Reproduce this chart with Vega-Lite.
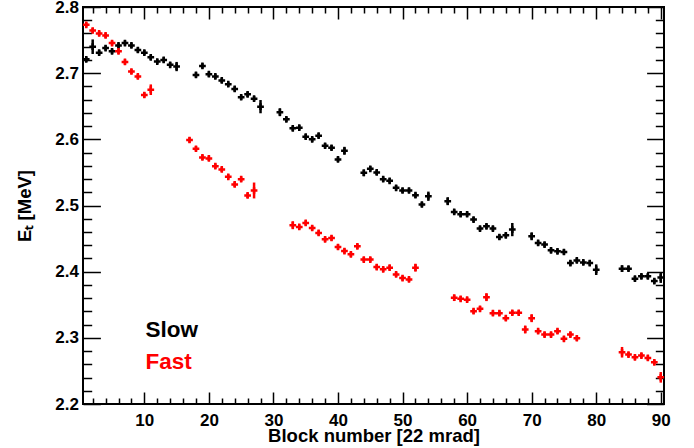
{
  "$schema": "https://vega.github.io/schema/vega-lite/v6.json",
  "width": 581,
  "height": 397,
  "autosize": {"type": "none"},
  "padding": {"left": 83, "top": 7, "right": 30, "bottom": 44},
  "background": "white",
  "data": {"values": [
    {"block":1,"E":2.721,"err":0.004,"series":"Slow"},
    {"block":2,"E":2.740,"err":0.011,"series":"Slow"},
    {"block":3,"E":2.731,"err":0.004,"series":"Slow"},
    {"block":4,"E":2.738,"err":0.004,"series":"Slow"},
    {"block":5,"E":2.733,"err":0.004,"series":"Slow"},
    {"block":6,"E":2.742,"err":0.004,"series":"Slow"},
    {"block":7,"E":2.7455,"err":0.004,"series":"Slow"},
    {"block":8,"E":2.742,"err":0.004,"series":"Slow"},
    {"block":9,"E":2.735,"err":0.004,"series":"Slow"},
    {"block":10,"E":2.731,"err":0.004,"series":"Slow"},
    {"block":11,"E":2.724,"err":0.004,"series":"Slow"},
    {"block":12,"E":2.7176,"err":0.004,"series":"Slow"},
    {"block":13,"E":2.720,"err":0.004,"series":"Slow"},
    {"block":14,"E":2.7126,"err":0.004,"series":"Slow"},
    {"block":15,"E":2.710,"err":0.007,"series":"Slow"},
    {"block":18,"E":2.6974,"err":0.004,"series":"Slow"},
    {"block":19,"E":2.711,"err":0.004,"series":"Slow"},
    {"block":20,"E":2.6985,"err":0.004,"series":"Slow"},
    {"block":21,"E":2.695,"err":0.004,"series":"Slow"},
    {"block":22,"E":2.689,"err":0.004,"series":"Slow"},
    {"block":23,"E":2.6833,"err":0.004,"series":"Slow"},
    {"block":24,"E":2.6762,"err":0.004,"series":"Slow"},
    {"block":25,"E":2.6636,"err":0.004,"series":"Slow"},
    {"block":26,"E":2.668,"err":0.004,"series":"Slow"},
    {"block":27,"E":2.6615,"err":0.004,"series":"Slow"},
    {"block":28,"E":2.6494,"err":0.010,"series":"Slow"},
    {"block":31,"E":2.641,"err":0.006,"series":"Slow"},
    {"block":32,"E":2.6303,"err":0.004,"series":"Slow"},
    {"block":33,"E":2.6167,"err":0.004,"series":"Slow"},
    {"block":34,"E":2.6176,"err":0.004,"series":"Slow"},
    {"block":35,"E":2.604,"err":0.004,"series":"Slow"},
    {"block":36,"E":2.600,"err":0.004,"series":"Slow"},
    {"block":37,"E":2.6055,"err":0.004,"series":"Slow"},
    {"block":38,"E":2.5903,"err":0.004,"series":"Slow"},
    {"block":39,"E":2.5873,"err":0.004,"series":"Slow"},
    {"block":40,"E":2.5697,"err":0.004,"series":"Slow"},
    {"block":41,"E":2.5827,"err":0.006,"series":"Slow"},
    {"block":44,"E":2.5494,"err":0.005,"series":"Slow"},
    {"block":45,"E":2.5555,"err":0.004,"series":"Slow"},
    {"block":46,"E":2.550,"err":0.004,"series":"Slow"},
    {"block":47,"E":2.5398,"err":0.004,"series":"Slow"},
    {"block":48,"E":2.5373,"err":0.004,"series":"Slow"},
    {"block":49,"E":2.5267,"err":0.004,"series":"Slow"},
    {"block":50,"E":2.5227,"err":0.004,"series":"Slow"},
    {"block":51,"E":2.5227,"err":0.004,"series":"Slow"},
    {"block":52,"E":2.5156,"err":0.004,"series":"Slow"},
    {"block":53,"E":2.5015,"err":0.004,"series":"Slow"},
    {"block":54,"E":2.514,"err":0.007,"series":"Slow"},
    {"block":57,"E":2.5065,"err":0.006,"series":"Slow"},
    {"block":58,"E":2.4903,"err":0.004,"series":"Slow"},
    {"block":59,"E":2.4868,"err":0.004,"series":"Slow"},
    {"block":60,"E":2.4868,"err":0.004,"series":"Slow"},
    {"block":61,"E":2.4788,"err":0.004,"series":"Slow"},
    {"block":62,"E":2.4652,"err":0.004,"series":"Slow"},
    {"block":63,"E":2.4686,"err":0.004,"series":"Slow"},
    {"block":64,"E":2.4652,"err":0.004,"series":"Slow"},
    {"block":65,"E":2.4524,"err":0.004,"series":"Slow"},
    {"block":66,"E":2.455,"err":0.004,"series":"Slow"},
    {"block":67,"E":2.4636,"err":0.010,"series":"Slow"},
    {"block":70,"E":2.4535,"err":0.006,"series":"Slow"},
    {"block":71,"E":2.4434,"err":0.004,"series":"Slow"},
    {"block":72,"E":2.4409,"err":0.004,"series":"Slow"},
    {"block":73,"E":2.4323,"err":0.004,"series":"Slow"},
    {"block":74,"E":2.4308,"err":0.004,"series":"Slow"},
    {"block":75,"E":2.4297,"err":0.004,"series":"Slow"},
    {"block":76,"E":2.413,"err":0.004,"series":"Slow"},
    {"block":77,"E":2.417,"err":0.004,"series":"Slow"},
    {"block":78,"E":2.414,"err":0.004,"series":"Slow"},
    {"block":79,"E":2.413,"err":0.004,"series":"Slow"},
    {"block":80,"E":2.403,"err":0.008,"series":"Slow"},
    {"block":84,"E":2.4045,"err":0.005,"series":"Slow"},
    {"block":85,"E":2.4045,"err":0.004,"series":"Slow"},
    {"block":86,"E":2.3894,"err":0.004,"series":"Slow"},
    {"block":87,"E":2.3929,"err":0.004,"series":"Slow"},
    {"block":88,"E":2.3929,"err":0.004,"series":"Slow"},
    {"block":89,"E":2.3858,"err":0.004,"series":"Slow"},
    {"block":90,"E":2.391,"err":0.008,"series":"Slow"},
    {"block":1,"E":2.773,"err":0.004,"series":"Fast"},
    {"block":2,"E":2.7645,"err":0.004,"series":"Fast"},
    {"block":3,"E":2.760,"err":0.004,"series":"Fast"},
    {"block":4,"E":2.757,"err":0.004,"series":"Fast"},
    {"block":5,"E":2.7455,"err":0.004,"series":"Fast"},
    {"block":6,"E":2.733,"err":0.004,"series":"Fast"},
    {"block":7,"E":2.717,"err":0.004,"series":"Fast"},
    {"block":8,"E":2.7025,"err":0.004,"series":"Fast"},
    {"block":9,"E":2.695,"err":0.004,"series":"Fast"},
    {"block":10,"E":2.667,"err":0.004,"series":"Fast"},
    {"block":11,"E":2.675,"err":0.008,"series":"Fast"},
    {"block":17,"E":2.599,"err":0.004,"series":"Fast"},
    {"block":18,"E":2.5858,"err":0.004,"series":"Fast"},
    {"block":19,"E":2.5727,"err":0.004,"series":"Fast"},
    {"block":20,"E":2.5712,"err":0.004,"series":"Fast"},
    {"block":21,"E":2.5595,"err":0.004,"series":"Fast"},
    {"block":22,"E":2.5545,"err":0.004,"series":"Fast"},
    {"block":23,"E":2.5433,"err":0.004,"series":"Fast"},
    {"block":24,"E":2.5318,"err":0.004,"series":"Fast"},
    {"block":25,"E":2.5398,"err":0.004,"series":"Fast"},
    {"block":26,"E":2.5152,"err":0.004,"series":"Fast"},
    {"block":27,"E":2.5227,"err":0.012,"series":"Fast"},
    {"block":33,"E":2.4702,"err":0.006,"series":"Fast"},
    {"block":34,"E":2.4676,"err":0.004,"series":"Fast"},
    {"block":35,"E":2.4736,"err":0.004,"series":"Fast"},
    {"block":36,"E":2.466,"err":0.004,"series":"Fast"},
    {"block":37,"E":2.4585,"err":0.004,"series":"Fast"},
    {"block":38,"E":2.4489,"err":0.004,"series":"Fast"},
    {"block":39,"E":2.4509,"err":0.004,"series":"Fast"},
    {"block":40,"E":2.4373,"err":0.004,"series":"Fast"},
    {"block":41,"E":2.4312,"err":0.004,"series":"Fast"},
    {"block":42,"E":2.4262,"err":0.004,"series":"Fast"},
    {"block":43,"E":2.4383,"err":0.004,"series":"Fast"},
    {"block":44,"E":2.4182,"err":0.004,"series":"Fast"},
    {"block":45,"E":2.4182,"err":0.004,"series":"Fast"},
    {"block":46,"E":2.407,"err":0.004,"series":"Fast"},
    {"block":47,"E":2.4035,"err":0.004,"series":"Fast"},
    {"block":48,"E":2.406,"err":0.004,"series":"Fast"},
    {"block":49,"E":2.3959,"err":0.004,"series":"Fast"},
    {"block":50,"E":2.3903,"err":0.004,"series":"Fast"},
    {"block":51,"E":2.3883,"err":0.004,"series":"Fast"},
    {"block":52,"E":2.406,"err":0.006,"series":"Fast"},
    {"block":58,"E":2.3606,"err":0.005,"series":"Fast"},
    {"block":59,"E":2.359,"err":0.004,"series":"Fast"},
    {"block":60,"E":2.3576,"err":0.004,"series":"Fast"},
    {"block":61,"E":2.3403,"err":0.004,"series":"Fast"},
    {"block":62,"E":2.3439,"err":0.004,"series":"Fast"},
    {"block":63,"E":2.3615,"err":0.006,"series":"Fast"},
    {"block":64,"E":2.3373,"err":0.004,"series":"Fast"},
    {"block":65,"E":2.3373,"err":0.004,"series":"Fast"},
    {"block":66,"E":2.3297,"err":0.004,"series":"Fast"},
    {"block":67,"E":2.3379,"err":0.004,"series":"Fast"},
    {"block":68,"E":2.3379,"err":0.004,"series":"Fast"},
    {"block":69,"E":2.3126,"err":0.006,"series":"Fast"},
    {"block":70,"E":2.3297,"err":0.006,"series":"Fast"},
    {"block":71,"E":2.310,"err":0.004,"series":"Fast"},
    {"block":72,"E":2.305,"err":0.004,"series":"Fast"},
    {"block":73,"E":2.305,"err":0.004,"series":"Fast"},
    {"block":74,"E":2.310,"err":0.004,"series":"Fast"},
    {"block":75,"E":2.2985,"err":0.004,"series":"Fast"},
    {"block":76,"E":2.305,"err":0.004,"series":"Fast"},
    {"block":77,"E":2.2994,"err":0.004,"series":"Fast"},
    {"block":84,"E":2.2782,"err":0.008,"series":"Fast"},
    {"block":85,"E":2.2747,"err":0.004,"series":"Fast"},
    {"block":86,"E":2.2706,"err":0.004,"series":"Fast"},
    {"block":87,"E":2.2732,"err":0.004,"series":"Fast"},
    {"block":88,"E":2.2697,"err":0.004,"series":"Fast"},
    {"block":89,"E":2.263,"err":0.004,"series":"Fast"},
    {"block":90,"E":2.2403,"err":0.008,"series":"Fast"}
  ]},
  "layer": [
    {
      "transform": [{"filter": "datum.series === 'Slow'"}],
      "mark": {"type": "errorbar", "ticks": false, "rule": {"strokeWidth": 2.5}},
      "encoding": {
        "x": {"field": "block", "type": "quantitative",
              "scale": {"domain": [0.5, 90.5], "nice": false, "zero": false},
              "axis": {"orient": "bottom", "values": [10,20,30,40,50,60,70,80,90], "tickSize": -12, "labelPadding": 20, "title": "Block number [22 mrad]", "titlePadding": -2}},
        "y": {"field": "E", "type": "quantitative",
              "scale": {"domain": [2.2, 2.8], "nice": false, "zero": false},
              "axis": {"orient": "left", "values": [2.2,2.3,2.4,2.5,2.6,2.7,2.8], "format": ".1f", "tickSize": -17.4, "labelPadding": 22, "title": "Eₜ [MeV]", "titlePadding": 20}},
        "yError": {"field": "err"},
        "color": {"field": "series", "type": "nominal", "scale": {"domain": ["Slow", "Fast"], "range": ["black", "red"]},
                  "legend": {"orient": "none", "legendX": 40, "legendY": 311.5, "title": null, "padding": 0,
                             "symbolSize": 0, "symbolOpacity": 0, "symbolStrokeWidth": 0, "labelOffset": 0,
                             "labelFont": "Liberation Sans", "labelFontWeight": "bold", "labelFontSize": 22.5,
                             "rowPadding": 9.5, "labelLimit": 0,
                             "encode": {"labels": {"update": {"fill": {"signal": "datum.value === 'Slow' ? 'black' : 'red'"}}}}}}
      }
    },
    {
      "transform": [{"filter": "datum.series === 'Fast'"}],
      "mark": {"type": "errorbar", "ticks": false, "rule": {"strokeWidth": 2.5}},
      "encoding": {
        "x": {"field": "block", "type": "quantitative",
              "axis": {"orient": "bottom", "values": [2,4,6,8,12,14,16,18,22,24,26,28,32,34,36,38,42,44,46,48,52,54,56,58,62,64,66,68,72,74,76,78,82,84,86,88], "tickSize": -6, "labels": false, "title": null}},
        "y": {"field": "E", "type": "quantitative",
              "axis": {"orient": "left", "values": [2.22,2.24,2.26,2.28,2.32,2.34,2.36,2.38,2.42,2.44,2.46,2.48,2.52,2.54,2.56,2.58,2.62,2.64,2.66,2.68,2.72,2.74,2.76,2.78], "tickSize": -8.7, "labels": false, "title": null}},
        "yError": {"field": "err"},
        "color": {"field": "series", "type": "nominal"}
      }
    },
    {
      "transform": [{"filter": "datum.series === 'Slow'"}],
      "mark": {"type": "point", "shape": "M-1,0H1M0,-1V1", "filled": false, "strokeWidth": 2.5, "size": 45, "opacity": 1},
      "encoding": {
        "x": {"field": "block", "type": "quantitative",
              "axis": {"orient": "top", "values": [10,20,30,40,50,60,70,80,90], "tickSize": -12, "labels": false, "title": null}},
        "y": {"field": "E", "type": "quantitative",
              "axis": {"orient": "right", "values": [2.2,2.3,2.4,2.5,2.6,2.7,2.8], "tickSize": -17.4, "labels": false, "title": null}},
        "color": {"field": "series", "type": "nominal"}
      }
    },
    {
      "transform": [{"filter": "datum.series === 'Fast'"}],
      "mark": {"type": "point", "shape": "M-1,0H1M0,-1V1", "filled": false, "strokeWidth": 2.5, "size": 45, "opacity": 1},
      "encoding": {
        "x": {"field": "block", "type": "quantitative",
              "axis": {"orient": "top", "values": [2,4,6,8,12,14,16,18,22,24,26,28,32,34,36,38,42,44,46,48,52,54,56,58,62,64,66,68,72,74,76,78,82,84,86,88], "tickSize": -6, "labels": false, "title": null}},
        "y": {"field": "E", "type": "quantitative",
              "axis": {"orient": "right", "values": [2.22,2.24,2.26,2.28,2.32,2.34,2.36,2.38,2.42,2.44,2.46,2.48,2.52,2.54,2.56,2.58,2.62,2.64,2.66,2.68,2.72,2.74,2.76,2.78], "tickSize": -8.7, "labels": false, "title": null}},
        "color": {"field": "series", "type": "nominal"}
      }
    }
  ],
  "resolve": {"axis": {"x": "independent", "y": "independent"}},
  "config": {
    "view": {"stroke": "black", "strokeWidth": 2},
    "axis": {"labelFont": "Liberation Sans", "labelFontWeight": "bold", "labelFontSize": 17, "labelColor": "black",
             "titleFont": "Liberation Sans", "titleFontWeight": "bold", "titleFontSize": 18.5, "titleColor": "black",
             "tickColor": "black", "tickWidth": 1.5, "domain": false, "grid": false}
  }
}
